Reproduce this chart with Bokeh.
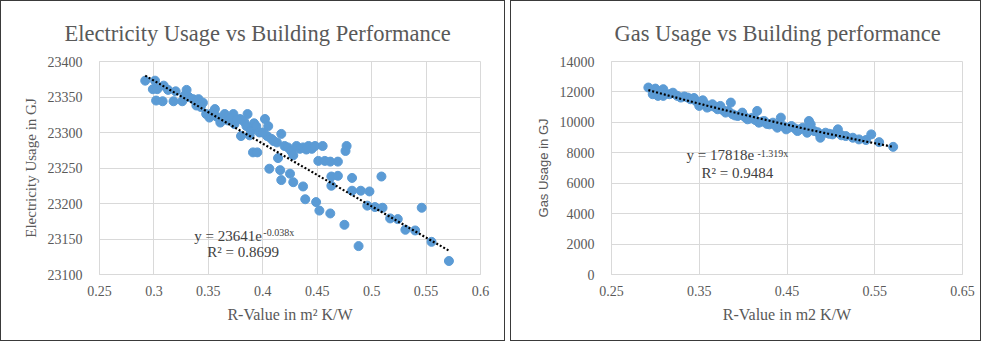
import numpy as np
from bokeh.plotting import figure
from bokeh.layouts import row
from bokeh.models import Range1d, Label, FixedTicker
from bokeh.embed import file_html
from bokeh.resources import INLINE

# ---------------- data ----------------
elec_r = [0.292, 0.301, 0.299, 0.303, 0.309, 0.302, 0.308, 0.318, 0.313, 0.320,
          0.326, 0.330, 0.328, 0.336, 0.339, 0.341, 0.345, 0.348, 0.351, 0.356,
          0.361, 0.365, 0.368, 0.373, 0.374, 0.379, 0.380, 0.386, 0.385, 0.389,
          0.392, 0.394, 0.391, 0.395, 0.402, 0.405, 0.404, 0.408, 0.413, 0.417,
          0.414, 0.420, 0.423, 0.426, 0.431, 0.434, 0.437, 0.442, 0.445, 0.448,
          0.455, 0.451, 0.457, 0.462, 0.469, 0.477, 0.476, 0.463, 0.469, 0.463,
          0.482, 0.482, 0.490, 0.498, 0.496, 0.503, 0.510, 0.509, 0.517, 0.524,
          0.531, 0.540, 0.546, 0.555, 0.571, 0.488, 0.475, 0.462, 0.452, 0.449,
          0.439, 0.437, 0.428, 0.425, 0.417, 0.416, 0.406, 0.343, 0.358, 0.370,
          0.383, 0.397, 0.400, 0.410, 0.428, 0.440, 0.354, 0.376, 0.332, 0.388]
elec_gj = [23373, 23373, 23361, 23361, 23366, 23345, 23344, 23344, 23360, 23358,
           23344, 23360, 23352, 23347, 23338, 23347, 23342, 23326, 23321, 23333,
           23314, 23326, 23317, 23326, 23312, 23319, 23295, 23326, 23309, 23302,
           23313, 23309, 23272, 23272, 23319, 23309, 23295, 23291, 23286, 23298,
           23264, 23281, 23279, 23274, 23281, 23277, 23279, 23281, 23277, 23281,
           23281, 23260, 23260, 23259, 23259, 23281, 23274, 23238, 23239, 23225,
           23236, 23218, 23218, 23217, 23197, 23195, 23194, 23238, 23179, 23178,
           23163, 23162, 23194, 23146, 23119, 23140, 23170, 23186, 23190, 23202,
           23206, 23224, 23230, 23242, 23233, 23247, 23249, 23336, 23322, 23320,
           23315, 23300, 23300, 23288, 23268, 23276, 23328, 23318, 23350, 23296]

gas_r = [0.292, 0.300, 0.297, 0.303, 0.309, 0.309, 0.316, 0.325, 0.329, 0.337,
         0.340, 0.346, 0.350, 0.354, 0.359, 0.365, 0.371, 0.374, 0.380, 0.386,
         0.388, 0.394, 0.399, 0.405, 0.411, 0.416, 0.418, 0.424, 0.430, 0.434,
         0.439, 0.443, 0.449, 0.455, 0.462, 0.468, 0.473, 0.475, 0.477, 0.481,
         0.488, 0.494, 0.502, 0.508, 0.517, 0.525, 0.532, 0.540, 0.546, 0.555,
         0.571, 0.305, 0.320, 0.333, 0.344, 0.356, 0.362, 0.368, 0.377, 0.383,
         0.391, 0.397, 0.402, 0.408, 0.414, 0.421, 0.427, 0.437, 0.446, 0.452,
         0.459, 0.465, 0.485, 0.498, 0.512]
gas_gj = [12290, 12220, 11850, 11740, 12180, 11740, 11850, 11740, 11630, 11630,
          11520, 11410, 11080, 11450, 10970, 11190, 10860, 11080, 10640, 11300,
          10530, 10420, 10640, 10200, 10310, 10750, 9980, 10090, 9870, 9980,
          9650, 10310, 9540, 9760, 9430, 9650, 9320, 10090, 9870, 9430,
          8990, 9320, 9210, 9540, 9100, 8990, 8880, 8840, 9210, 8700,
          8390, 12000, 11950, 11700, 11600, 11250, 11050, 11000, 10800, 10750,
          10450, 10500, 10350, 10250, 10150, 10050, 9900, 9800, 9750, 9650,
          9600, 9550, 9350, 9250, 9150]

# trendline coefficients as shown on the chart (y = a * e^(b x))
elec_a, elec_b = 23641, -0.038
gas_a, gas_b = 17818, -1.319

elec_xticks = [0.25, 0.3, 0.35, 0.4, 0.45, 0.5, 0.55, 0.6]
elec_xlabels = ["0.25", "0.3", "0.35", "0.4", "0.45", "0.5", "0.55", "0.6"]
elec_yticks = [23100, 23150, 23200, 23250, 23300, 23350, 23400]
gas_xticks = [0.25, 0.35, 0.45, 0.55, 0.65]
gas_xlabels = ["0.25", "0.35", "0.45", "0.55", "0.65"]
gas_yticks = [0, 2000, 4000, 6000, 8000, 10000, 12000, 14000]

# ---------------- styling ----------------
BLUE = "#5B9BD5"
GRID = "#D9D9D9"
TXT = "#595959"
SERIF = "'Liberation Serif', serif"


def style(p, xticks, xlabels, yticks):
    p.xaxis.ticker = FixedTicker(ticks=xticks)
    p.xaxis.major_label_overrides = {t: l for t, l in zip(xticks, xlabels)}
    p.yaxis.ticker = FixedTicker(ticks=yticks)
    p.yaxis.major_label_overrides = {t: str(t) for t in yticks}
    for ax in (p.xaxis, p.yaxis):
        ax.axis_line_color = GRID
        ax.major_tick_line_color = None
        ax.minor_tick_line_color = None
        ax.major_label_text_font = SERIF
        ax.major_label_text_font_size = "14px"
        ax.major_label_text_color = TXT
        ax.axis_label_text_font = SERIF
        ax.axis_label_text_font_style = "normal"
        ax.axis_label_text_color = TXT
    p.yaxis.major_label_standoff = 11
    p.xaxis.major_label_standoff = 5
    p.xaxis.axis_label_standoff = 7
    p.yaxis.axis_label_standoff = 6
    p.xgrid.grid_line_color = GRID
    p.ygrid.grid_line_color = GRID
    p.outline_line_color = GRID
    p.title.text_font = SERIF
    p.title.text_font_size = "22.5px"
    p.title.text_font_style = "normal"
    p.title.text_color = TXT
    p.title.align = "left"
    p.title.standoff = 31
    p.styles = {"border": "1px solid #3a3a3a"}


# ---------------- left chart ----------------
p1 = figure(width=505, height=341, output_backend="svg", toolbar_location=None,
            x_range=Range1d(0.25, 0.6), y_range=Range1d(23100, 23400),
            min_border_left=98, min_border_right=26, min_border_top=60,
            min_border_bottom=64, title="Electricity Usage vs Building Performance")
style(p1, elec_xticks, elec_xlabels, elec_yticks)
p1.title.offset = -35
p1.xaxis.axis_label = "R-Value in m\u00b2 K/W"
p1.xaxis.axis_label_text_font_size = "16px"
p1.yaxis.axis_label = "Electricity Usage in GJ"
p1.yaxis.axis_label_text_font_size = "15px"

p1.scatter(elec_r, elec_gj, size=9, fill_color=BLUE, line_color=BLUE)
ex = np.linspace(min(elec_r), max(elec_r), 50)
p1.line(ex, elec_a * np.exp(elec_b * ex), line_color="black", line_width=2.2,
        line_dash="2 2")

p1.add_layout(Label(x=0.337, y=23143, text="y = 23641e", text_font=SERIF,
                    text_font_size="15px", text_color="#404040"))
p1.add_layout(Label(x=0.4005, y=23152, text="-0.038x", text_font=SERIF,
                    text_font_size="10px", text_color="#404040"))
p1.add_layout(Label(x=0.349, y=23121, text="R\u00b2 = 0.8699", text_font=SERIF,
                    text_font_size="15px", text_color="#404040"))

# ---------------- right chart ----------------
p2 = figure(width=471, height=341, output_backend="svg", toolbar_location=None,
            x_range=Range1d(0.25, 0.65), y_range=Range1d(0, 14000),
            min_border_left=100, min_border_right=20, min_border_top=60,
            min_border_bottom=68, title="Gas Usage vs Building performance")
style(p2, gas_xticks, gas_xlabels, gas_yticks)
p2.title.offset = 3
p2.xaxis.axis_label = "R-Value in m2 K/W"
p2.xaxis.axis_label_text_font_size = "16px"
p2.yaxis.axis_label = "Gas Usage in GJ"
p2.yaxis.axis_label_text_font = "'Liberation Sans', sans-serif"
p2.yaxis.axis_label_text_font_size = "13px"

p2.scatter(gas_r, gas_gj, size=9, fill_color=BLUE, line_color=BLUE)
gx = np.linspace(min(gas_r), max(gas_r), 50)
p2.line(gx, gas_a * np.exp(gas_b * gx), line_color="black", line_width=2.2,
        line_dash="2 2")

p2.add_layout(Label(x=0.3355, y=7330, text="y = 17818e", text_font=SERIF,
                    text_font_size="15px", text_color="#404040"))
p2.add_layout(Label(x=0.4164, y=7600, text="-1.319x", text_font=SERIF,
                    text_font_size="10px", text_color="#404040"))
p2.add_layout(Label(x=0.3526, y=6140, text="R\u00b2 = 0.9484", text_font=SERIF,
                    text_font_size="15px", text_color="#404040"))

layout = row(p1, p2, spacing=5)
open("out.html", "w").write(file_html(layout, INLINE))
